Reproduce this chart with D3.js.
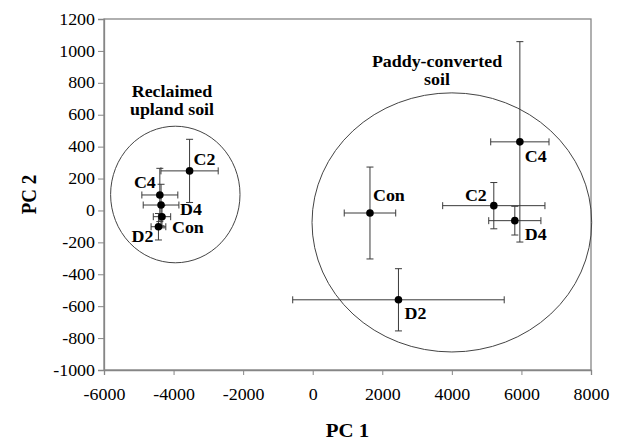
<!DOCTYPE html>
<html><head><meta charset="utf-8">
<script src="https://cdn.jsdelivr.net/npm/d3@7"></script>
<style>body{margin:0;background:#fff}svg{display:block}text{font-family:'Liberation Serif','Times New Roman',serif}</style>
</head><body><svg id="c" width="619" height="442"></svg>
<script>
// ---- data ----
const groupNames = ["Reclaimed upland soil", "Paddy-converted soil"];
const pointLabels = ["Con", "C2", "C4", "D2", "D4"];
// Reclaimed upland soil (PC1, PC2 means and error half-widths)
const upX    = [-4333, -3540, -4395, -4435, -4360];
const upXerr = [250, 823, 517, 212, 513];
const upY    = [-39, 248, 97, -102, 34];
const upYerr = [70, 198, 167, 83, 130];
// Paddy-converted soil
const pdX    = [1646, 5206, 5955, 2465, 5810];
const pdXerr = [740, 1470, 838, 3040, 750];
const pdY    = [-16, 30, 430, -560, -64];
const pdYerr = [288, 145, 628, 195, 90];
// cluster ellipses (data units)
const ellCx = [-3950, 4000];
const ellCy = [100, -75];
const ellRx = [1860, 4020];
const ellRy = [428, 812];
// axis ticks
const xTicks = [-6000, -4000, -2000, 0, 2000, 4000, 6000, 8000];
const yTicks = [-1000, -800, -600, -400, -200, 0, 200, 400, 600, 800, 1000, 1200];

// ---- styling (label offsets in px) ----
const upOff = [[10, 16, "start"], [4, -6, "start"], [-4, -7, "end"], [-5, 15, "end"], [19, 10, "start"]];
const pdOff = [[3, -12, "start"], [-7, -5, "end"], [5, 20, "start"], [6, 19, "start"], [10, 19, "start"]];

const svg = d3.select("#c");
const L = 104, R = 591, T = 19, B = 370;
const x = d3.scaleLinear().domain([-6000, 8000]).range([L, R]);
const y = d3.scaleLinear().domain([-1000, 1200]).range([B, T]);
const SX = 1.12;
const serif = "'Liberation Serif','Times New Roman',serif";
const grey = "#868686";

// frame
svg.append("rect").attr("x", L).attr("y", T).attr("width", R - L).attr("height", B - T)
  .attr("fill", "none").attr("stroke", grey).attr("stroke-width", 1.3);

// axes
const fmt = d => String(d);
const gx = svg.append("g").attr("transform", `translate(0,${B})`)
  .call(d3.axisBottom(x).tickValues(xTicks).tickFormat(fmt).tickSize(5).tickPadding(14));
const gy = svg.append("g").attr("transform", `translate(${L},0)`)
  .call(d3.axisLeft(y).tickValues(yTicks).tickFormat(fmt).tickSize(6).tickPadding(3));
[gx, gy].forEach(g => {
  g.attr("font-family", null);
  g.select(".domain").attr("stroke", grey).attr("stroke-width", 1.3);
  g.selectAll(".tick line").attr("stroke", grey);
  g.selectAll("text").style("font-family", serif).attr("font-size", 16).attr("fill", "#000");
});
gx.selectAll("text").attr("transform", `scale(${SX},1)`);
gy.selectAll("text").attr("x", -9 / SX).attr("transform", `scale(${SX},1)`);

// ellipses
ellCx.forEach((cx, i) => {
  svg.append("ellipse")
    .attr("cx", x(cx)).attr("cy", y(ellCy[i]))
    .attr("rx", x(cx + ellRx[i]) - x(cx))
    .attr("ry", y(ellCy[i] - ellRy[i]) - y(ellCy[i]))
    .attr("fill", "none").attr("stroke", "#444").attr("stroke-width", 1);
});

function drawGroup(X, Xe, Y, Ye, off) {
  const g = svg.append("g");
  const bar = "#3a3a3a", cap = 3.5;
  X.forEach((v, i) => {
    const px = x(v), py = y(Y[i]);
    const x0 = x(v - Xe[i]), x1 = x(v + Xe[i]);
    const y0 = y(Y[i] + Ye[i]), y1 = y(Y[i] - Ye[i]);
    const segs = [
      [x0, py, x1, py], [x0, py - cap, x0, py + cap], [x1, py - cap, x1, py + cap],
      [px, y0, px, y1], [px - cap, y0, px + cap, y0], [px - cap, y1, px + cap, y1]
    ];
    segs.forEach(s => g.append("line").attr("x1", s[0]).attr("y1", s[1]).attr("x2", s[2]).attr("y2", s[3])
      .attr("stroke", bar).attr("stroke-width", 1));
  });
  X.forEach((v, i) => {
    g.append("circle").attr("cx", x(v)).attr("cy", y(Y[i])).attr("r", 3.8).attr("fill", "#000");
  });
  X.forEach((v, i) => {
    const o = off[i];
    g.append("text").attr("transform", `translate(${x(v) + o[0]},${y(Y[i]) + o[1]}) scale(${SX},1)`)
      .attr("text-anchor", o[2]).style("font-family", serif).attr("font-weight", "bold")
      .attr("font-size", 16).text(pointLabels[i]);
  });
}
drawGroup(upX, upXerr, upY, upYerr, upOff);
drawGroup(pdX, pdXerr, pdY, pdYerr, pdOff);

// group annotations
function annot(lines, cx, by) {
  lines.forEach((t, k) => {
    svg.append("text").attr("transform", `translate(${cx},${by + k * 18}) scale(${SX},1)`)
      .attr("text-anchor", "middle").style("font-family", serif).attr("font-weight", "bold")
      .attr("font-size", 16).text(t);
  });
}
annot(["Reclaimed", "upland soil"], 172, 97);
annot(["Paddy-converted", "soil"], 437, 67);

// axis titles
svg.append("text").attr("transform", `translate(${(L + R) / 2},437) scale(1.1,1)`)
  .attr("text-anchor", "middle").style("font-family", serif).attr("font-weight", "bold")
  .attr("font-size", 19).text("PC 1");
svg.append("text").attr("transform", `translate(36,${(T + B) / 2}) rotate(-90) scale(1,1.1)`)
  .attr("text-anchor", "middle").style("font-family", serif).attr("font-weight", "bold")
  .attr("font-size", 19).text("PC 2");
</script>
</body></html>
